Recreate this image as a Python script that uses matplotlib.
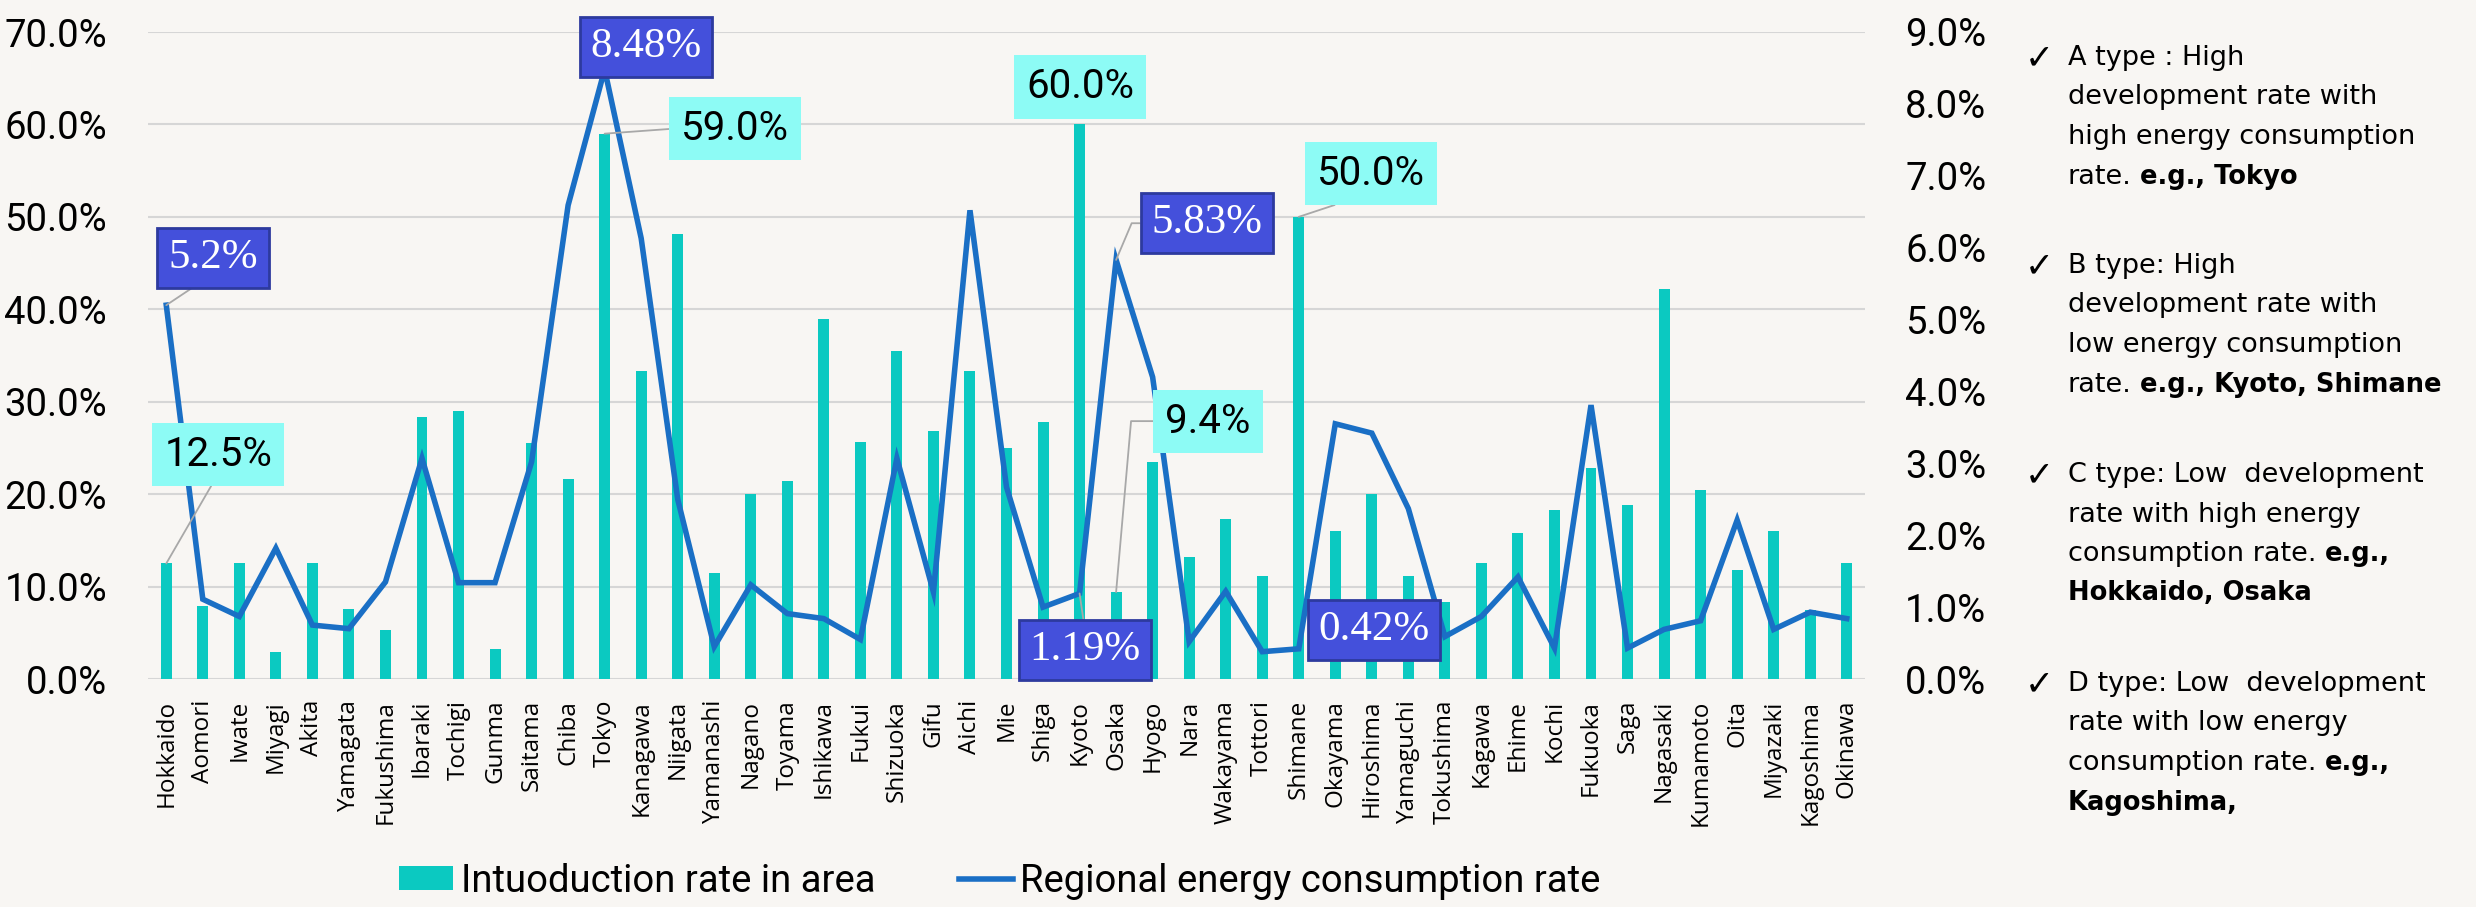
import matplotlib
matplotlib.use("Agg")
import matplotlib.pyplot as plt
from matplotlib.ticker import FuncFormatter, MultipleLocator

prefectures = ["Hokkaido", "Aomori", "Iwate", "Miyagi", "Akita", "Yamagata", "Fukushima",
               "Ibaraki", "Tochigi", "Gunma", "Saitama", "Chiba", "Tokyo", "Kanagawa", "Niigata",
               "Yamanashi", "Nagano", "Toyama", "Ishikawa", "Fukui", "Shizuoka", "Gifu", "Aichi",
               "Mie", "Shiga", "Kyoto", "Osaka", "Hyogo", "Nara", "Wakayama", "Tottori", "Shimane",
               "Okayama", "Hiroshima", "Yamaguchi", "Tokushima", "Kagawa", "Ehime", "Kochi",
               "Fukuoka", "Saga", "Nagasaki", "Kumamoto", "Oita", "Miyazaki", "Kagoshima", "Okinawa"]

# introduction rate in area (%), left axis
intro_rate = [12.5, 7.9, 12.5, 2.9, 12.5, 7.6, 5.3, 28.4, 29.0, 3.2, 25.5, 21.6, 59.0, 33.3, 48.1,
              11.5, 20.0, 21.4, 39.0, 25.6, 35.5, 26.8, 33.3, 25.0, 27.8, 60.0, 9.4, 23.5, 13.2,
              17.3, 11.1, 50.0, 16.0, 20.0, 11.1, 8.3, 12.5, 15.8, 18.3, 22.8, 18.8, 42.2, 20.5,
              11.8, 16.0, 7.5, 12.5]

# regional energy consumption rate (%), right axis
energy_rate = [5.2, 1.11, 0.87, 1.82, 0.75, 0.70, 1.35, 3.07, 1.34, 1.34, 3.02, 6.59, 8.48, 6.13,
               2.5, 0.45, 1.31, 0.91, 0.84, 0.55, 3.07, 1.21, 6.52, 2.67, 1.0, 1.19, 5.83, 4.2,
               0.52, 1.22, 0.38, 0.42, 3.55, 3.42, 2.37, 0.59, 0.87, 1.42, 0.43, 3.81, 0.43, 0.69,
               0.81, 2.21, 0.69, 0.93, 0.84]

bar_callouts = ["Hokkaido", "Tokyo", "Kyoto", "Shimane", "Osaka"]
line_callouts = ["Hokkaido", "Tokyo", "Osaka", "Kyoto", "Shimane"]

notes = [
    [[("A type : High", False)],
     [("development rate with", False)],
     [("high energy consumption", False)],
     [("rate.", False), ("e.g., Tokyo", True)]],
    [[("B type: High", False)],
     [("development rate with", False)],
     [("low energy consumption", False)],
     [("rate.", False), ("e.g., Kyoto, Shimane", True)]],
    [[("C type: Low  development", False)],
     [("rate with high energy", False)],
     [("consumption rate.", False), ("e.g.,", True)],
     [("Hokkaido, Osaka", True)]],
    [[("D type: Low  development", False)],
     [("rate with low energy", False)],
     [("consumption rate.", False), ("e.g.,", True)],
     [("Kagoshima,", True)]],
]

BAR_C = "#0BC9C1"
LINE_C = "#1A6FC5"
CYAN_BOX = "#8DFBF5"
BLUE_BOX = "#4450DB"
BG = "#F8F6F3"

W, H = 2476, 907
fig = plt.figure(figsize=(W / 100, H / 100), dpi=100, facecolor=BG)
ax = fig.add_axes([148 / W, 1 - 679 / H, (1865 - 148) / W, (679 - 32) / H])
ax.set_facecolor("none")
x = list(range(len(prefectures)))

ax.bar(x, intro_rate, width=0.30, color=BAR_C, label="Intuoduction rate in area", zorder=2)
ax.set_xlim(-0.5, len(prefectures) - 0.5)
ax.set_ylim(0, 70)
ax.yaxis.set_major_locator(MultipleLocator(10))
ax.yaxis.set_major_formatter(FuncFormatter(lambda v, p: f"{v:.1f}%"))
ax.grid(axis="y", color="#D6D6D6", lw=1.5, zorder=0)
ax.set_axisbelow(True)
for s in ax.spines.values():
    s.set_visible(False)
ax.tick_params(axis="y", length=0, pad=29.5, labelsize=27.5)
ax.tick_params(axis="x", length=0, pad=15)
ax.set_xticks(x)
ax.set_xticklabels(prefectures, rotation=90, fontsize=17.5, family="Open Sans", va="top")
for lab in ax.get_yticklabels():
    lab.set_family("Roboto")

ax2 = ax.twinx()
ax2.plot(x, energy_rate, color=LINE_C, lw=4.0, solid_joinstyle="miter",
         label="Regional energy consumption rate", zorder=3)
ax2.set_ylim(0, 9)
ax2.yaxis.set_major_locator(MultipleLocator(1))
ax2.yaxis.set_major_formatter(FuncFormatter(lambda v, p: f"{v:.1f}%"))
for s in ax2.spines.values():
    s.set_visible(False)
ax2.tick_params(axis="y", length=0, pad=29, labelsize=27.5)
for lab in ax2.get_yticklabels():
    lab.set_family("Roboto")

lead = dict(arrowstyle="-", color="#A8A8A8", lw=1.3, shrinkA=0, shrinkB=0)

# callouts on bars: text position (left-axis data), where the leader leaves the box, connection
bar_pos = {
    "Hokkaido": ((1.42, 24.3), (0.5, 0), "arc3"),
    "Tokyo": ((15.57, 59.6), (0, 0.5), "arc3"),
    "Kyoto": ((25.01, 64.05), None, None),
    "Shimane": ((32.98, 54.7), (0.5, 0), "arc3"),
    "Osaka": ((28.52, 27.9), (0, 0.5), "angle,angleA=180,angleB=85,rad=0"),
}
for name in bar_callouts:
    i = prefectures.index(name)
    pos, rel, conn = bar_pos[name]
    ap = None
    if rel is not None:
        ap = dict(lead, relpos=rel, connectionstyle=conn)
    ax2.annotate(f"{intro_rate[i]:.1f}%", xy=(i, intro_rate[i]), xycoords=ax.transData,
                 xytext=pos, textcoords=ax.transData, ha="center", va="center",
                 fontsize=29, family="Roboto", color="black", zorder=6,
                 bbox=dict(boxstyle="square,pad=0.3", fc=CYAN_BOX, ec="none"),
                 arrowprops=ap, annotation_clip=False)

line_pos = {
    "Hokkaido": ((1.28, 5.86), (0.45, 0), "arc3"),
    "Tokyo": ((13.13, 8.79), None, None),
    "Osaka": ((28.49, 6.34), (0, 0.5), "angle,angleA=180,angleB=67,rad=0"),
    "Kyoto": ((25.15, 0.40), (0.5, 1), "arc3"),
    "Shimane": ((33.06, 0.68), None, None),
}
for name in line_callouts:
    i = prefectures.index(name)
    pos, rel, conn = line_pos[name]
    ap = None
    if rel is not None:
        ap = dict(lead, relpos=rel, connectionstyle=conn)
    ax2.annotate(f"{energy_rate[i]:g}%", xy=(i, energy_rate[i]), xytext=pos,
                 textcoords="data", ha="center", va="center",
                 fontsize=31, family="Liberation Serif", color="white", zorder=7,
                 bbox=dict(boxstyle="square,pad=0.25", fc=BLUE_BOX, ec="#2D3A9E", lw=2),
                 arrowprops=ap, annotation_clip=False)

h1, l1 = ax.get_legend_handles_labels()
h2, l2 = ax2.get_legend_handles_labels()
fig.legend(h1 + h2, l1 + l2, loc="center", bbox_to_anchor=(1000 / W, 1 - 881 / H), ncol=2,
           frameon=False, prop={"family": "Roboto", "size": 27.5}, handlelength=1.4,
           handleheight=0.6, handletextpad=0.2, columnspacing=2.2)

# notes on the right, with bold parts
renderer = fig.canvas.get_renderer()
fs = 19.5
fs_bold = 18.5
space_px = 0.318 * fs * 100 / 72
block_top = [58, 266, 475, 684]
line_gap = 39.5
for b, block in enumerate(notes):
    fig.text(2025 / W, 1 - block_top[b] / H, "\u2713", fontsize=25, family="DejaVu Sans",
             va="center", ha="left")
    for k, parts in enumerate(block):
        y = 1 - (block_top[b] + k * line_gap) / H
        xp = 2068
        for txt, bold in parts:
            t = fig.text(xp / W, y, txt, fontsize=fs_bold if bold else fs, family="DejaVu Sans",
                         fontweight="bold" if bold else "normal", va="center", ha="left")
            xp = t.get_window_extent(renderer).x1 + space_px

fig.savefig("out.png", dpi=100, facecolor=BG)
